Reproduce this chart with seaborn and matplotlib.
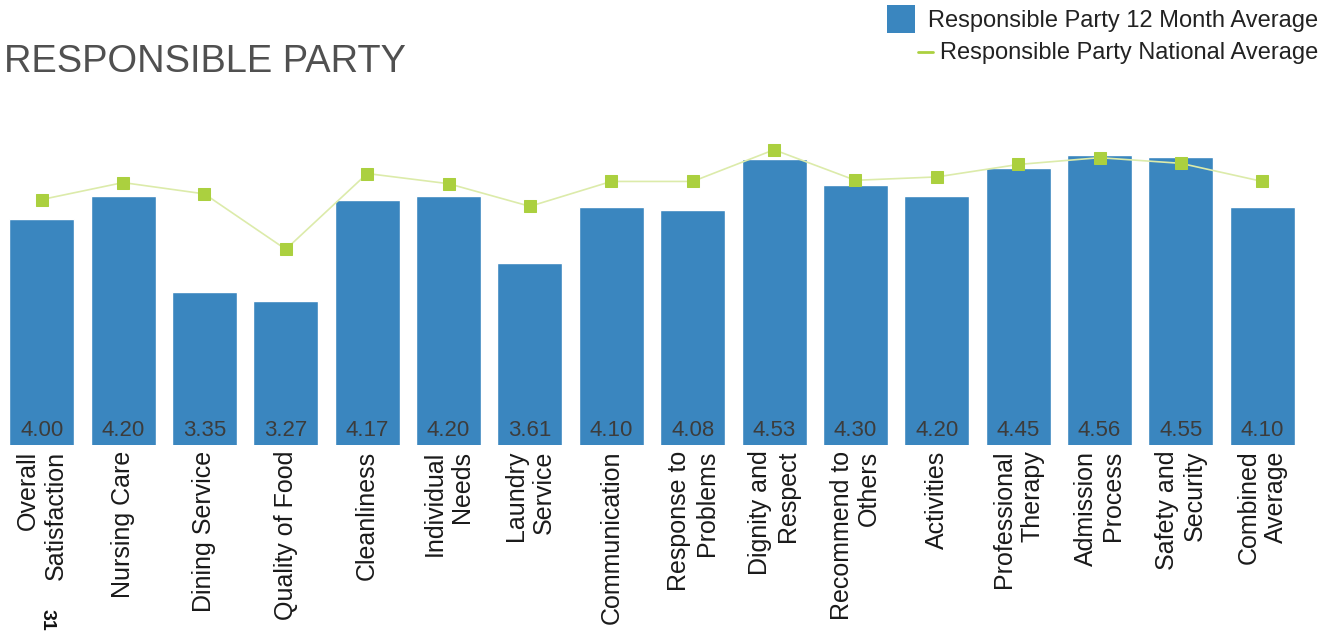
import matplotlib
matplotlib.use("Agg")
import matplotlib.pyplot as plt
import seaborn as sns
import pandas as pd
from matplotlib.patches import Rectangle
from matplotlib.lines import Line2D

categories = ["Overall\nSatisfaction", "Nursing Care", "Dining Service", "Quality of Food",
              "Cleanliness", "Individual\nNeeds", "Laundry\nService", "Communication",
              "Response to\nProblems", "Dignity and\nRespect", "Recommend to\nOthers",
              "Activities", "Professional\nTherapy", "Admission\nProcess", "Safety and\nSecurity",
              "Combined\nAverage"]
month_avg = [4.00, 4.20, 3.35, 3.27, 4.17, 4.20, 3.61, 4.10, 4.08, 4.53, 4.30, 4.20, 4.45, 4.56, 4.55, 4.10]
national_avg = [4.17, 4.32, 4.22, 3.73, 4.40, 4.31, 4.11, 4.33, 4.33, 4.61, 4.34, 4.37, 4.48, 4.54, 4.49, 4.33]
legend_labels = ["Responsible Party 12 Month Average", "Responsible Party National Average"]

BAR = "#3a86bf"
LINE = "#dcebaa"
MARK = "#abd03f"

sns.set_theme(style="white")
plt.rcParams["font.family"] = ["Liberation Sans", "DejaVu Sans"]

W, H = 1321, 638
fig = plt.figure(figsize=(W / 100, H / 100), dpi=100)
ax = fig.add_axes([1 / W, (H - 445) / H, 1302 / W, (445 - 100) / H])

df = pd.DataFrame({"cat": categories, "val": month_avg})
sns.barplot(data=df, x="cat", y="val", color=BAR, saturation=1, width=0.8, ax=ax)
pos = list(range(len(categories)))
sns.lineplot(x=pos, y=national_avg, ax=ax, color=LINE, linewidth=1.2, marker="s",
             markersize=9, markerfacecolor=MARK, markeredgecolor=MARK, zorder=5)

for p, v in zip(pos, month_avg):
    ax.text(p, 2.13, f"{v:.2f}", ha="center", va="center", fontsize=16, color="#3c3c3c")

ax.set_ylim(2.0, 5.05)
ax.set_xlim(-0.5, len(categories) - 0.5)
ax.set_xlabel("")
ax.set_ylabel("")
ax.set_yticks([])
ax.set_xticks(pos)
ax.set_xticklabels(categories, rotation=90, fontsize=18, color="#1a1a1a",
                   multialignment="right", linespacing=1.2)
ax.tick_params(axis="x", length=0, pad=4)
for s in ax.spines.values():
    s.set_visible(False)

fig.text(4 / W, 1 - 72 / H, "RESPONSIBLE PARTY", fontsize=27.4, color="#505050",
         ha="left", va="baseline")

# legend drawn by hand to match the reference layout
fig.patches.append(Rectangle((887 / W, 1 - 33 / H), 28 / W, 28 / H, transform=fig.transFigure,
                             facecolor=BAR, edgecolor="none"))
fig.text(928 / W, 1 - 21 / H, legend_labels[0], fontsize=17, color="#222222",
         ha="left", va="center")
fig.lines.append(Line2D([918 / W, 933 / W], [1 - 52 / H, 1 - 52 / H], transform=fig.transFigure,
                        color=MARK, linewidth=2))
fig.text(940 / W, 1 - 53 / H, legend_labels[1], fontsize=17, color="#222222",
         ha="left", va="center")

fig.text(47 / W, 1 - 620 / H, "31", rotation=-90, fontsize=14, fontweight="bold",
         color="#111111", ha="center", va="center")

fig.savefig("out.png", dpi=100)
